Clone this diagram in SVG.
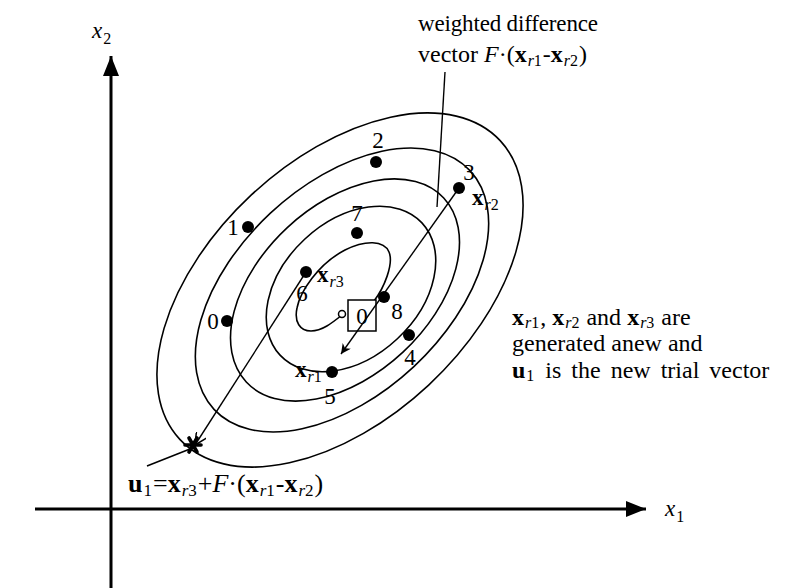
<svg xmlns="http://www.w3.org/2000/svg" width="785" height="588" viewBox="0 0 785 588">
<style>
.t{font-family:"Liberation Serif","Times New Roman",serif;font-size:23px;fill:#000}
.b{font-weight:bold}
.i{font-style:italic}
.s{font-size:16px}
.c{fill:none;stroke:#000;stroke-width:1.6}
.dot{fill:#000}
.ax{stroke:#000;stroke-width:3;fill:none}
.ln{stroke:#000;stroke-width:1.4;fill:none}
.star{stroke:#000;stroke-width:3.6;stroke-linecap:round}
</style>
<defs>
<marker id="axh" markerUnits="userSpaceOnUse" markerWidth="22" markerHeight="16" refX="20" refY="8" orient="auto"><path d="M0,0 L20,8 L0,16 z" fill="#000"/></marker>
<marker id="small" markerUnits="userSpaceOnUse" markerWidth="12" markerHeight="10" refX="10" refY="5" orient="auto"><path d="M0,0 L10,5 L0,10 L3,5 z" fill="#000"/></marker>
<marker id="open" markerUnits="userSpaceOnUse" markerWidth="14" markerHeight="12" refX="12" refY="6" orient="auto"><path d="M0,0 L12,6 L0,12" fill="none" stroke="#000" stroke-width="1.5"/></marker>
</defs>
<rect width="785" height="588" fill="#fff"/>

<g id="contours">
<ellipse class="c" cx="340" cy="290" rx="219" ry="130" transform="rotate(-43 340 290)"/>
<ellipse class="c" cx="342" cy="290" rx="175" ry="105" transform="rotate(-43 342 290)"/>
<ellipse class="c" cx="345" cy="290" rx="135" ry="85" transform="rotate(-43 345 290)"/>
<ellipse class="c" cx="351" cy="289" rx="97" ry="68" transform="rotate(-43 351 289)"/>
<path class="c" d="M342,315 C332,323 322,331 311,331 C300,331 294,322 297,308 C300,292 318,264 345,250 C365,240 384,240 389,252 C394,264 384,288 374,301"/>
<path class="c" d="M195,447 L147,466"/>
</g>

<g id="connectors">
<line class="ax" x1="111" y1="588" x2="111" y2="56" marker-end="url(#axh)"/>
<line class="ax" x1="35" y1="509" x2="646" y2="509" marker-end="url(#axh)"/>
<line class="ln" x1="445" y1="72" x2="437" y2="207"/>
<line class="ln" x1="306" y1="272" x2="195" y2="445" marker-end="url(#open)"/>
</g>

<g id="minimum">
<rect x="348" y="300" width="28" height="31" fill="#fff" stroke="#000" stroke-width="1.5"/>
<text class="t" x="362" y="324" text-anchor="middle">0</text>
<circle cx="342" cy="314" r="3.5" fill="#fff" stroke="#000" stroke-width="1.5"/>
</g>

<g id="diffvec">
<line class="ln" x1="459" y1="188" x2="341" y2="354" marker-end="url(#small)"/>
</g>

<g id="p0"><circle class="dot" cx="227" cy="321" r="6"/><text class="t" x="213" y="329" text-anchor="middle">0</text></g>
<g id="p1"><circle class="dot" cx="248" cy="227" r="6"/><text class="t" x="233" y="235" text-anchor="middle">1</text></g>
<g id="p2"><circle class="dot" cx="376" cy="162" r="6"/><text class="t" x="378" y="148" text-anchor="middle">2</text></g>
<g id="p3"><circle class="dot" cx="459" cy="188" r="6"/><text class="t" x="469" y="180" text-anchor="middle">3</text>
<text class="t" x="472" y="205"><tspan class="b">x</tspan><tspan class="s i" dx="1" dy="5">r</tspan><tspan class="s">2</tspan></text></g>
<g id="p4"><circle class="dot" cx="409" cy="335" r="6"/><text class="t" x="410" y="365" text-anchor="middle">4</text></g>
<g id="p5"><circle class="dot" cx="332" cy="372" r="6"/><text class="t" x="330" y="404" text-anchor="middle">5</text>
<text class="t" x="295" y="377"><tspan class="b">x</tspan><tspan class="s i" dx="1" dy="5">r</tspan><tspan class="s">1</tspan></text></g>
<g id="p6"><circle class="dot" cx="306" cy="272" r="6"/><text class="t" x="302" y="301" text-anchor="middle">6</text>
<text class="t" x="317" y="282"><tspan class="b">x</tspan><tspan class="s i" dx="1" dy="5">r</tspan><tspan class="s">3</tspan></text></g>
<g id="p7"><circle class="dot" cx="357" cy="233" r="6"/><text class="t" x="357" y="221" text-anchor="middle">7</text></g>
<g id="p8"><circle class="dot" cx="384" cy="297" r="6"/><text class="t" x="397" y="319" text-anchor="middle">8</text></g>

<g id="trial">
<g class="star">
<line x1="185" y1="445" x2="201" y2="445"/>
<line x1="189" y1="438" x2="197" y2="452"/>
<line x1="197" y1="438" x2="189" y2="452"/>
</g>
<text class="t" x="128" y="492" style="font-size:26px"><tspan class="b">u</tspan><tspan style="font-size:17px" dx="1" dy="4">1</tspan><tspan dx="1" dy="-4">=</tspan><tspan class="b">x</tspan><tspan style="font-size:17px" class="i" dx="1" dy="4">r</tspan><tspan style="font-size:17px">3</tspan><tspan dx="1" dy="-4">+</tspan><tspan class="i">F</tspan><tspan>·(</tspan><tspan class="b">x</tspan><tspan style="font-size:17px" class="i" dx="1" dy="4">r</tspan><tspan style="font-size:17px">1</tspan><tspan dx="1" dy="-4">-</tspan><tspan class="b">x</tspan><tspan style="font-size:17px" class="i" dx="1" dy="4">r</tspan><tspan style="font-size:17px">2</tspan><tspan dx="1" dy="-4">)</tspan></text>
</g>

<g id="label-diff">
<text class="t" x="418" y="31" textLength="180">weighted difference</text>
<text class="t" x="418" y="62" style="font-size:24px">vector <tspan class="i">F</tspan>·(<tspan class="b">x</tspan><tspan class="s i" dx="1" dy="4">r</tspan><tspan class="s">1</tspan><tspan dx="1" dy="-4">-</tspan><tspan class="b">x</tspan><tspan class="s i" dx="1" dy="4">r</tspan><tspan class="s">2</tspan><tspan dx="1" dy="-4">)</tspan></text>
</g>

<g id="note">
<text class="t" x="512" y="325" style="font-size:24px"><tspan class="b">x</tspan><tspan class="s i" dx="1" dy="3">r</tspan><tspan class="s">1</tspan><tspan dx="1" dy="-3">, </tspan><tspan class="b">x</tspan><tspan class="s i" dx="1" dy="3">r</tspan><tspan class="s">2</tspan><tspan dx="1" dy="-3"> and </tspan><tspan class="b">x</tspan><tspan class="s i" dx="1" dy="3">r</tspan><tspan class="s">3</tspan><tspan dx="1" dy="-3"> are</tspan></text>
<text class="t" x="512" y="351" style="font-size:24px">generated anew and</text>
<text class="t" x="512" y="378" style="font-size:24px;word-spacing:4px"><tspan class="b">u</tspan><tspan class="s" dx="1" dy="3">1</tspan><tspan dx="1" dy="-3"> is the new trial vector</tspan></text>
</g>

<g id="axis-labels">
<text class="t i" x="92" y="38">x<tspan class="s" font-style="normal" dx="1" dy="6">2</tspan></text>
<text class="t i" x="665" y="516">x<tspan class="s" font-style="normal" dx="1" dy="6">1</tspan></text>
</g>
</svg>
